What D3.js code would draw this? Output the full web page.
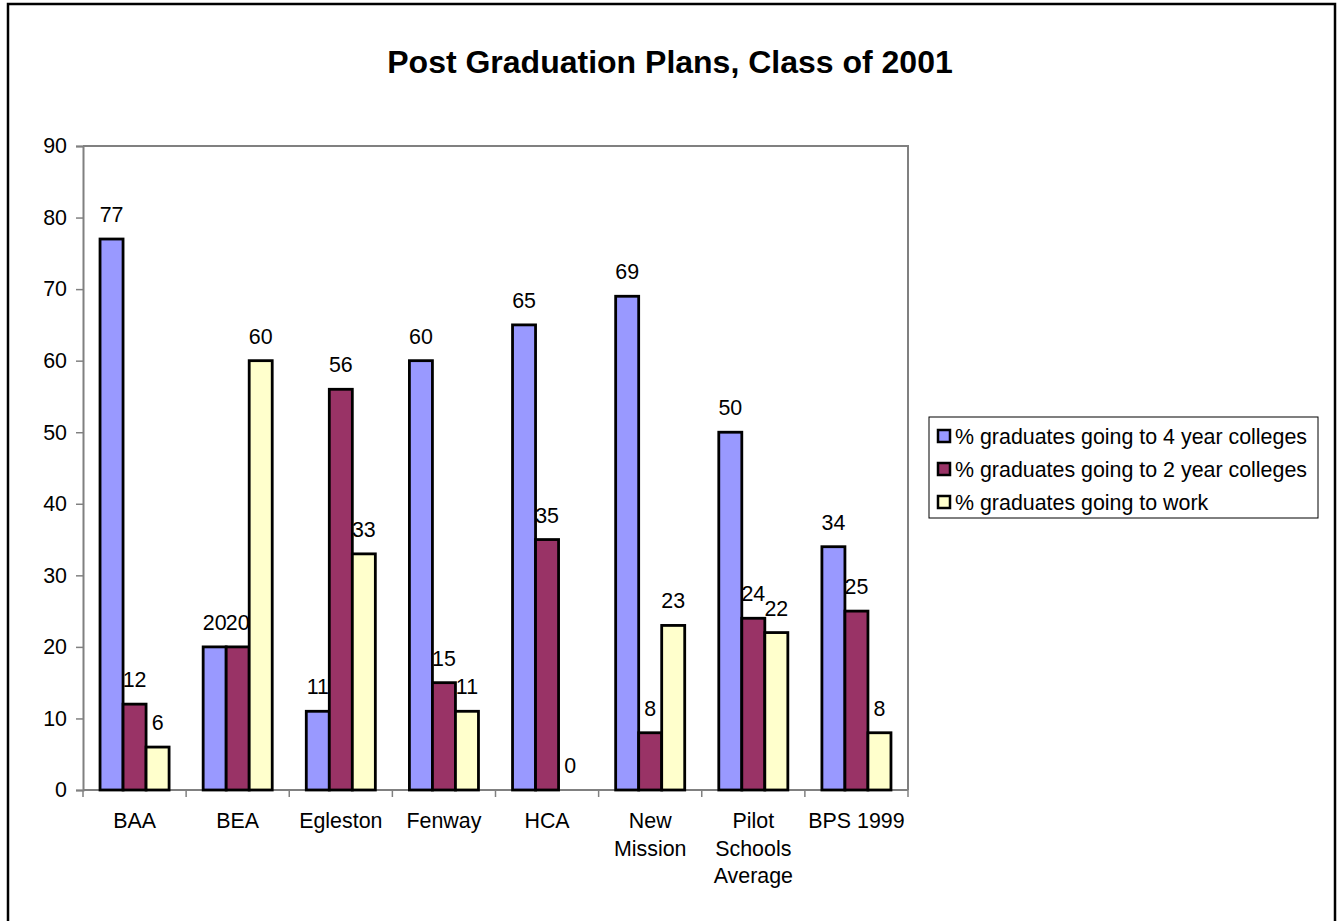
<!DOCTYPE html>
<html>
<head>
<meta charset="utf-8">
<script src="https://cdn.jsdelivr.net/npm/d3@7"></script>
<style>
  html, body { margin: 0; padding: 0; background: #fff; }
  svg { display: block; font-family: "Liberation Sans", Arial, sans-serif; }
</style>
</head>
<body>
<svg id="chart" width="1344" height="921"></svg>
<script>
// Schools / groups along the x axis (line breaks marked with "|")
const categories = ["BAA", "BEA", "Egleston", "Fenway", "HCA", "New|Mission", "Pilot|Schools|Average", "BPS 1999"];
// Series
const seriesNames = [
  "% graduates going to 4 year colleges",
  "% graduates going to 2 year colleges",
  "% graduates going to work"
];
const fourYear = [77, 20, 11, 60, 65, 69, 50, 34];
const twoYear  = [12, 20, 56, 15, 35, 8, 24, 25];
const work     = [6, 60, 33, 11, 0, 23, 22, 8];
const yTicks   = [0, 10, 20, 30, 40, 50, 60, 70, 80, 90];
const seriesColors = ["#9999FF", "#993366", "#FFFFCC"];

const seriesValues = [fourYear, twoYear, work];

const svg = d3.select("#chart");

// outer frame
svg.append("rect")
  .attr("x", 8).attr("y", 4).attr("width", 1327).attr("height", 930)
  .attr("fill", "#fff").attr("stroke", "#000").attr("stroke-width", 2.5);

// title
svg.append("text")
  .attr("x", 670).attr("y", 73)
  .attr("text-anchor", "middle")
  .attr("font-size", 32).attr("font-weight", "bold")
  .text("Post Graduation Plans, Class of 2001");

const plot = { left: 83, right: 908, top: 146, bottom: 790 };

const x0 = d3.scaleBand().domain(categories).range([plot.left, plot.right]).padding(0);
const x1 = d3.scaleBand().domain(d3.range(seriesNames.length))
  .range([0, x0.bandwidth()]).paddingInner(0).paddingOuter(0.74);
const y = d3.scaleLinear().domain([0, 90]).range([plot.bottom, plot.top]);

// plot frame (top and right)
svg.append("path")
  .attr("d", `M${plot.left},${plot.top}H${plot.right}V${plot.bottom}`)
  .attr("fill", "none").attr("stroke", "#808080").attr("stroke-width", 2);

// y axis
const yAxis = svg.append("g")
  .attr("transform", `translate(${plot.left},0)`)
  .call(d3.axisLeft(y).tickValues(yTicks).tickSize(7).tickPadding(9).tickFormat(d3.format("d")));
yAxis.select(".domain").attr("stroke", "#808080").attr("stroke-width", 2);
yAxis.selectAll(".tick line").attr("stroke", "#808080").attr("stroke-width", 1.5);
yAxis.selectAll(".tick text").attr("font-size", 21.4).attr("fill", "#000")
  .attr("font-family", "Liberation Sans, Arial, sans-serif");

// x axis: ticks at category boundaries
const xAxisG = svg.append("g");
xAxisG.append("line")
  .attr("x1", plot.left).attr("x2", plot.right)
  .attr("y1", plot.bottom).attr("y2", plot.bottom)
  .attr("stroke", "#808080").attr("stroke-width", 2);
const boundaries = categories.map(c => x0(c)).concat([x0(categories[categories.length - 1]) + x0.bandwidth()]);
xAxisG.selectAll("line.tick").data(boundaries).join("line")
  .attr("class", "tick")
  .attr("x1", d => d).attr("x2", d => d)
  .attr("y1", plot.bottom).attr("y2", plot.bottom + 7)
  .attr("stroke", "#808080").attr("stroke-width", 1.5);

// category labels
const catLabels = svg.append("g").selectAll("text").data(categories).join("text")
  .attr("x", d => x0(d) + x0.bandwidth() / 2)
  .attr("y", 828)
  .attr("text-anchor", "middle")
  .attr("font-size", 21.4);
catLabels.each(function (d) {
  const t = d3.select(this);
  d.split("|").forEach((line, i) => {
    t.append("tspan")
      .attr("x", x0(d) + x0.bandwidth() / 2)
      .attr("dy", i === 0 ? 0 : 27.5)
      .text(line);
  });
});

// bars
const groups = svg.append("g").selectAll("g").data(categories).join("g")
  .attr("transform", d => `translate(${x0(d)},0)`);

groups.selectAll("rect")
  .data((c, ci) => seriesValues.map((vals, si) => ({ si, v: vals[ci] })))
  .join("rect")
  .attr("x", d => x1(d.si))
  .attr("width", x1.bandwidth())
  .attr("y", d => y(d.v))
  .attr("height", d => y(0) - y(d.v))
  .attr("fill", d => seriesColors[d.si])
  .attr("stroke", d => d.v > 0 ? "#000" : "none")
  .attr("stroke-width", 2.8);

// value labels
groups.selectAll("text")
  .data((c, ci) => seriesValues.map((vals, si) => ({ si, v: vals[ci] })))
  .join("text")
  .attr("x", d => x1(d.si) + x1.bandwidth() / 2)
  .attr("y", d => y(d.v) - 17)
  .attr("text-anchor", "middle")
  .attr("font-size", 21.4)
  .text(d => d3.format("d")(d.v));

// legend
const legend = svg.append("g");
legend.append("rect")
  .attr("x", 929).attr("y", 417).attr("width", 389).attr("height", 101)
  .attr("fill", "#fff").attr("stroke", "#000").attr("stroke-width", 1);
const items = legend.selectAll("g.item").data(seriesNames).join("g")
  .attr("class", "item")
  .attr("transform", (d, i) => `translate(0,${436 + i * 33})`);
items.append("rect")
  .attr("x", 938).attr("y", -6).attr("width", 12).attr("height", 12)
  .attr("fill", (d, i) => seriesColors[i])
  .attr("stroke", "#000").attr("stroke-width", 2.5);
items.append("text")
  .attr("x", 955).attr("y", 7.5)
  .attr("font-size", 21.4)
  .text(d => d);
</script>
</body>
</html>
